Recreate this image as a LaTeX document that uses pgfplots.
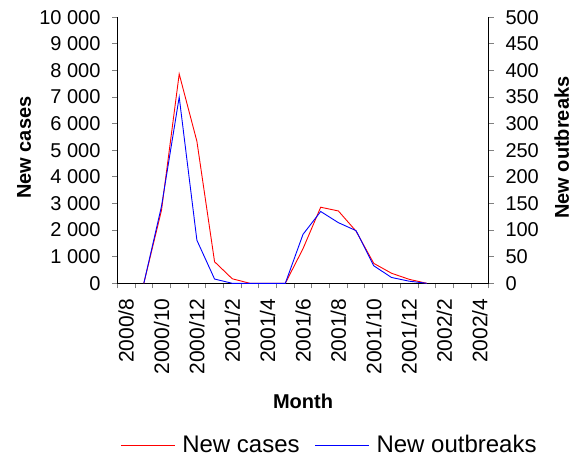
\documentclass[border=0pt]{standalone}
\usepackage{fontspec}
\setmainfont{Liberation Sans}
\usepackage{pgfplots}
\pgfplotsset{compat=1.18}
\newcommand{\tickfont}{\fontsize{20bp}{24bp}\selectfont}
\newcommand{\xtickfont}{\fontsize{21bp}{24bp}\selectfont}
\newcommand{\labfont}{\fontsize{20bp}{24bp}\selectfont\bfseries}
\newcommand{\legfont}{\fontsize{24bp}{28bp}\selectfont}
\pgfplotstableread{
idx cases outbreaks
1 0 0
2 2750 145
3 7870 350
4 5340 81
5 810 8
6 170 0
7 0 0
8 0 0
9 0 0
10 1300 92
11 2860 135
12 2720 114
13 1960 99
14 750 33
15 380 11
16 150 4
17 0 0
}\datatable
\begin{document}
\begin{tikzpicture}
\path[use as bounding box] (-117.3bp,-175.7bp) rectangle (462.7bp,283.3bp);
\pgfplotsset{
  common/.style={
    scale only axis, width=371.4bp, height=266bp,
    xmin=-0.5, xmax=20.5,
    tick align=outside, major tick length=5bp,
    axis line style={line width=0.9bp},
    tick style={line width=0.9bp},
    tick label style={font=\tickfont},
    /pgf/number format/assume math mode=true,
    label style={font=\labfont},
  }
}
\begin{axis}[common,
  axis y line*=left, axis x line*=bottom,
  ymin=0, ymax=10000, ytick={0,1000,...,10000},
  scaled y ticks=false,
  /pgf/number format/1000 sep={\ },
  /pgf/number format/fixed,
  yticklabel style={inner sep=0pt, anchor=east, xshift=-11.6bp},
  xtick={-0.5,0.5,...,20.5}, xticklabels={},
  extra x ticks={0,2,...,20},
  extra x tick labels={2000/8,2000/10,2000/12,2001/2,2001/4,2001/6,2001/8,2001/10,2001/12,2002/2,2002/4},
  extra x tick style={major tick length=0pt,
    tick label style={font=\xtickfont, rotate=90, anchor=east, inner sep=0pt, xshift=-15bp}},
  xlabel={Month},
  xlabel style={at={(axis description cs:0.5,0)}, yshift=-118.4bp, anchor=center},
  ylabel={New cases},
  ylabel style={at={(axis description cs:-0.2512,0.51)}, anchor=center},
]
\addplot[red, line width=0.9bp] table[x=idx, y=cases] {\datatable};
\end{axis}
\begin{axis}[common,
  axis y line*=right, axis x line=none,
  ymin=0, ymax=500, ytick={0,50,...,500},
  yticklabel style={inner sep=0pt, anchor=west, xshift=11.6bp},
  ylabel={New outbreaks},
  ylabel style={at={(axis description cs:1.1966,0.51)}, anchor=center},
  legend style={at={(0.570,-0.608)}, anchor=center, draw=none, fill=none,
    font=\legfont, legend columns=-1,
    /tikz/every odd column/.append style={column sep=6bp},
    /tikz/every even column/.append style={column sep=14bp},
    nodes={inner sep=1bp}},
  legend image code/.code={\draw[#1] (0bp,0bp) -- (54bp,0bp);},
]
\addlegendimage{red, line width=0.9bp}
\addlegendentry{New cases}
\addplot[blue, line width=0.9bp] table[x=idx, y=outbreaks] {\datatable};
\addlegendentry{New outbreaks}
\end{axis}
\end{tikzpicture}
\end{document}
